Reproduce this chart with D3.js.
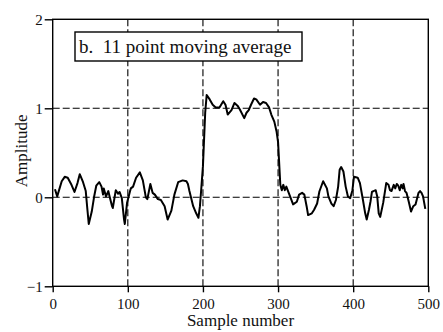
<!DOCTYPE html>
<html>
<head>
<meta charset="utf-8">
<script src="https://cdn.jsdelivr.net/npm/d3@7"></script>
<style>
  body { margin: 0; background: #fff; }
  svg { display: block; }
</style>
</head>
<body>
<div id="showBox"></div>
<script>
// values: sample number / amplitude
const samples = [3, 6, 12, 16, 20, 25, 29, 33, 36, 40, 44, 46, 48, 52, 55, 58, 62, 65, 67, 68,
  71, 74, 76, 79, 80, 84, 87, 89, 92, 95, 96, 99, 103, 104, 107, 111, 116, 120, 124, 126,
  130, 133, 136, 140, 144, 149, 153, 158, 162, 167, 173, 178, 180, 182, 187, 191, 194, 196, 198, 200,
  203, 205, 209, 213, 217, 222, 227, 230, 233, 238, 242, 246, 249, 255, 258, 261, 264, 268, 271, 276,
  280, 284, 288, 291, 295, 298, 300, 303, 305, 307, 309, 311, 316, 320, 325, 328, 332, 335, 338, 340,
  345, 348, 352, 355, 360, 365, 367, 371, 374, 377, 380, 382, 384, 387, 390, 393, 396, 399, 401, 406,
  409, 413, 416, 418, 421, 423, 425, 427, 430, 432, 434, 436, 440, 444, 447, 449, 451, 454, 456, 458,
  460, 462, 464, 466, 467, 469, 471, 474, 477, 480, 483, 487, 489, 491, 493, 496]
const amplitude = [0.09, 0.01, 0.18, 0.23, 0.22, 0.14, 0.06, 0.16, 0.26, 0.18, 0.07, -0.12, -0.30, -0.16, 0.0, 0.13, 0.17, 0.12, 0.03, 0.10,
  0.01, 0.07, 0.0, -0.10, -0.12, 0.08, 0.04, 0.06, -0.01, -0.25, -0.30, -0.06, 0.07, 0.10, 0.12, 0.22, 0.28, 0.19, 0.0, -0.02,
  0.15, 0.05, 0.03, -0.02, -0.03, -0.10, -0.25, -0.15, 0.03, 0.17, 0.19, 0.18, 0.15, 0.07, -0.10, -0.18, -0.23, -0.10, 0.12, 0.35,
  0.95, 1.15, 1.10, 1.04, 1.01, 1.01, 1.08, 1.04, 0.93, 0.98, 1.06, 1.03, 0.99, 0.89, 0.95, 0.98, 1.04, 1.11, 1.10, 1.04,
  1.07, 1.06, 1.01, 0.93, 0.85, 0.74, 0.62, 0.14, 0.08, 0.14, 0.08, 0.12, 0.01, -0.08, -0.05, 0.03, 0.05, 0.03, -0.10, -0.20,
  -0.18, -0.14, -0.07, 0.065, 0.18, 0.10, 0.01, -0.07, -0.10, -0.03, 0.12, 0.31, 0.34, 0.29, 0.12, 0.01, -0.01, 0.08, 0.23, 0.22,
  0.16, -0.03, -0.18, -0.25, -0.14, -0.05, 0.06, 0.07, 0.08, 0.01, -0.18, -0.22, -0.06, 0.16, 0.14, 0.08, 0.07, 0.14, 0.10, 0.15,
  0.13, 0.08, 0.14, 0.10, 0.15, 0.07, 0.05, -0.05, -0.16, -0.10, -0.08, 0.05, 0.07, 0.05, 0.01, -0.13]

const xTicks = [0, 100, 200, 300, 400, 500]
const yTicks = [-1, 0, 1, 2]
const xGrid = [100, 200, 300, 400]
const yGrid = [0, 1]
const legendText = "b.  11 point moving average"

const serif = "'Liberation Serif', 'DejaVu Serif', 'Times New Roman', Times, serif"
const width = 443, height = 332
const margin = {top: 19.3, right: 14.7, bottom: 45.7, left: 52.7}

const x = d3.scaleLinear().domain([0, 500]).range([margin.left, width - margin.right])
const y = d3.scaleLinear().domain([-1, 2]).range([height - margin.bottom, margin.top])

const svg = d3.select("#showBox").append("svg")
    .attr("width", width)
    .attr("height", height)

// dashed grid
svg.append("g").selectAll("line").data(xGrid).join("line")
    .attr("x1", d => x(d)).attr("x2", d => x(d))
    .attr("y1", y(-1)).attr("y2", y(2))
    .attr("stroke", "#000").attr("stroke-width", 1.1)
    .attr("stroke-dasharray", "7,3")
svg.append("g").selectAll("line").data(yGrid).join("line")
    .attr("x1", x(0)).attr("x2", x(500))
    .attr("y1", d => y(d)).attr("y2", d => y(d))
    .attr("stroke", "#000").attr("stroke-width", 1.1)
    .attr("stroke-dasharray", "7,3")

// frame
svg.append("rect")
    .attr("x", x(0)).attr("y", y(2))
    .attr("width", x(500) - x(0)).attr("height", y(-1) - y(2))
    .attr("fill", "none").attr("stroke", "#000").attr("stroke-width", 1.4)

// axes
const xAxis = svg.append("g")
    .attr("transform", `translate(0,${y(-1)})`)
    .call(d3.axisBottom(x).tickValues(xTicks).tickSize(6).tickPadding(6).tickFormat(d3.format("d")))
const yAxis = svg.append("g")
    .attr("transform", `translate(${x(0)},0)`)
    .call(d3.axisLeft(y).tickValues(yTicks).tickSize(8).tickPadding(2).tickFormat(d3.format("d")))

for (const g of [xAxis, yAxis]) {
    g.attr("font-family", serif).attr("font-size", 15)
    g.select(".domain").remove()
    g.selectAll(".tick line").attr("stroke", "#000").attr("stroke-width", 1.4)
    g.selectAll(".tick text").attr("fill", "#111")
}

// signal
const pts = samples.map((s, i) => [s, amplitude[i]])
svg.append("path")
    .datum(pts)
    .attr("fill", "none")
    .attr("stroke", "#000")
    .attr("stroke-width", 2)
    .attr("stroke-linejoin", "round")
    .attr("d", d3.line().x(d => x(d[0])).y(d => y(d[1])))

// legend box
svg.append("rect")
    .attr("x", 75).attr("y", 32).attr("width", 227).attr("height", 29)
    .attr("fill", "#fff").attr("stroke", "#000").attr("stroke-width", 1.4)
svg.append("text")
    .attr("x", 79).attr("y", 53)
    .attr("font-family", serif)
    .attr("font-size", 19)
    .attr("fill", "#111")
    .style("white-space", "pre")
    .text(legendText)

// axis titles
svg.append("text")
    .attr("x", (x(0) + x(500)) / 2).attr("y", 326)
    .attr("text-anchor", "middle")
    .attr("font-family", serif)
    .attr("font-size", 17)
    .attr("fill", "#111")
    .text("Sample number")
svg.append("text")
    .attr("transform", `translate(27,${(y(-1) + y(2)) / 2 - 2}) rotate(-90)`)
    .attr("text-anchor", "middle")
    .attr("font-family", serif)
    .attr("font-size", 17)
    .attr("fill", "#111")
    .text("Amplitude")
</script>
</body>
</html>
